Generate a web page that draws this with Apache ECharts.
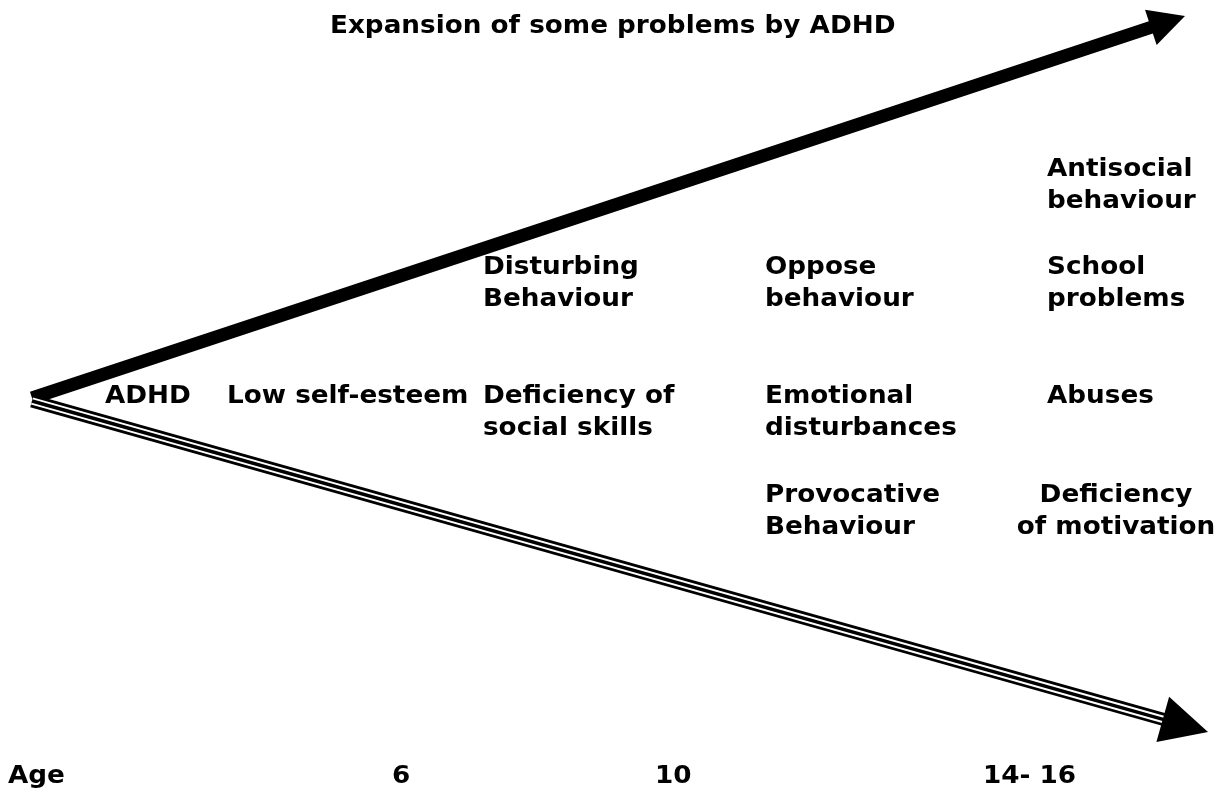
<!DOCTYPE html>
<html>
<head>
<meta charset="utf-8">
<script src="https://cdn.jsdelivr.net/npm/echarts@6/dist/echarts.min.js"></script>
<style>
  html, body { margin: 0; padding: 0; background: #fff; }
  #chart { width: 1231px; height: 794px; }
</style>
</head>
<body>
<div id="chart"></div>
<script>
// 标题
var titleText = 'Expansion of some problems by ADHD';
var titlePos = [330, 26];

// 问题标签 (第一行的位置)
var problemLabels = ['ADHD', 'Low self-esteem', 'Deficiency of\nsocial skills', 'Disturbing\nBehaviour',
    'Oppose\nbehaviour', 'Emotional\ndisturbances', 'Provocative\nBehaviour',
    'Antisocial\nbehaviour', 'School\nproblems', 'Abuses', 'Deficiency\nof motivation'];
var problemX = [105, 227, 483, 483, 765, 765, 765, 1047, 1047, 1047, 1116];
var problemY = [396, 396, 396, 267, 267, 396, 495, 169, 267, 396, 495];
var problemAlign = ['left', 'left', 'left', 'left', 'left', 'left', 'left', 'left', 'left', 'left', 'center'];

// 年龄
var ageLabels = ['Age', '6', '10', '14- 16'];
var ageX = [8, 392, 655, 983];
var ageY = 776;

// 箭头: 起点, 终点
var upperArrow = [32, 398, 1185, 16];
var lowerArrow = [32, 401, 1208, 732];

var myChart = echarts.init(document.getElementById('chart'));

var textFont = {
    fontFamily: '"DejaVu Sans", Verdana, sans-serif',
    fontWeight: 'bold',
    fontSize: 25,
    lineHeight: 32,
    fill: '#000'
};

function textItem(text, pt, align) {
    return {
        type: 'text',
        x: pt[0],
        y: pt[1] - 16,
        scaleX: 1.05,
        style: Object.assign({}, textFont, {
            text: text,
            x: 0,
            y: 0,
            align: align,
            verticalAlign: 'top'
        })
    };
}

function arrowHead(tip, u, len, wid) {
    var bx = tip[0] - u[0] * len, by = tip[1] - u[1] * len;
    var nx = -u[1] * wid / 2, ny = u[0] * wid / 2;
    return {
        type: 'polygon',
        shape: { points: [tip, [bx + nx, by + ny], [bx - nx, by - ny]] },
        style: { fill: '#000' }
    };
}

function renderArrow(params, api) {
    var p0 = api.coord([api.value(0), api.value(1)]);
    var p1 = api.coord([api.value(2), api.value(3)]);
    var dx = p1[0] - p0[0], dy = p1[1] - p0[1];
    var d = Math.sqrt(dx * dx + dy * dy);
    var u = [dx / d, dy / d];
    var children = [];
    if (params.dataIndex === 0) {
        // 上面的粗箭头
        var len = 36;
        var end = [p1[0] - u[0] * (len - 4), p1[1] - u[1] * (len - 4)];
        children.push({
            type: 'line',
            shape: { x1: p0[0], y1: p0[1], x2: end[0], y2: end[1] },
            style: { stroke: '#000', lineWidth: 13 }
        });
        children.push(arrowHead(p1, u, len, 37));
    } else {
        // 下面的三线箭头
        var len2 = 47;
        var end2 = [p1[0] - u[0] * (len2 - 4), p1[1] - u[1] * (len2 - 4)];
        var widths = [[13, '#000'], [7.4, '#fff'], [3.4, '#000']];
        widths.forEach(function (w) {
            children.push({
                type: 'line',
                shape: { x1: p0[0], y1: p0[1], x2: end2[0], y2: end2[1] },
                style: { stroke: w[1], lineWidth: w[0] }
            });
        });
        children.push(arrowHead(p1, u, len2, 47));
    }
    return { type: 'group', children: children };
}

var problemData = problemLabels.map(function (t, i) {
    return [problemX[i], problemY[i], t, problemAlign[i]];
});
var ageData = ageLabels.map(function (t, i) {
    return [ageX[i], ageY, t];
});

var option = {
    animation: false,
    backgroundColor: '#fff',
    grid: { left: 0, right: 0, top: 0, bottom: 0 },
    xAxis: { type: 'value', min: 0, max: 1231, show: false },
    yAxis: { type: 'value', min: 0, max: 794, inverse: true, show: false },
    series: [{
        name: 'arrows',
        type: 'custom',
        renderItem: renderArrow,
        data: [upperArrow, lowerArrow]
    }, {
        name: 'title',
        type: 'custom',
        renderItem: function (params, api) {
            return textItem(titleText, api.coord([titlePos[0], titlePos[1]]), 'left');
        },
        data: [titlePos]
    }, {
        name: 'problems',
        type: 'custom',
        renderItem: function (params, api) {
            var d = problemData[params.dataIndex];
            return textItem(d[2], api.coord([d[0], d[1]]), d[3]);
        },
        data: problemData.map(function (d) { return [d[0], d[1]]; })
    }, {
        name: 'age',
        type: 'custom',
        renderItem: function (params, api) {
            var d = ageData[params.dataIndex];
            return textItem(d[2], api.coord([d[0], d[1]]), 'left');
        },
        data: ageData.map(function (d) { return [d[0], d[1]]; })
    }]
};

myChart.setOption(option);
</script>
</body>
</html>
